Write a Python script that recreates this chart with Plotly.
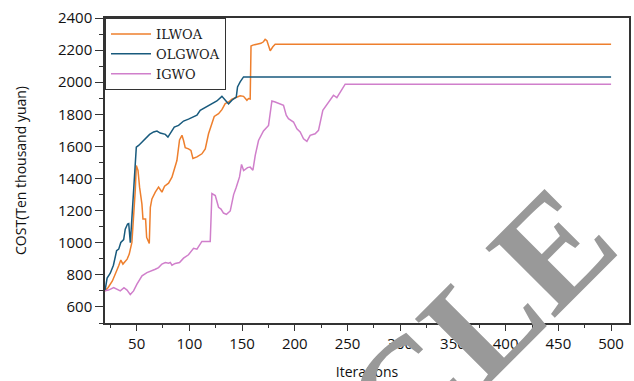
import plotly.graph_objects as go

# ---- data ----
ilwoa_x = [20, 23, 27, 30, 33, 35, 37, 41, 43, 45.5, 47, 48.7, 49.7, 51.3, 52.8, 55, 56, 58.5,
           59.5, 60.5, 62, 63, 64.5, 67.7, 70.8, 72.5, 74, 76.5, 80.3, 83.5, 85.7, 88.2, 90.7,
           93, 94.5, 96.1, 99.2, 101.5, 103.4, 107.2, 111.9, 115.1, 118.2, 121.4, 123.6, 127.7,
           130.9, 134, 137.2, 140.4, 143.5, 148.2, 151.4, 154.6, 156.1, 157.7, 158.5, 160.3,
           164, 167.9, 170.3, 171.9, 173.6, 175.1, 176.7, 179.2, 181.4, 500]
ilwoa_y = [700, 721, 762, 804, 856, 892, 867, 898, 929, 1002, 1137, 1325, 1481, 1450, 1346, 1242,
           1148, 1148, 1033, 1012, 996, 1221, 1273, 1315, 1346, 1330, 1315, 1352, 1371, 1408, 1450,
           1512, 1640, 1669, 1637, 1592, 1585, 1575, 1525, 1535, 1554, 1585, 1679, 1752, 1787,
           1804, 1829, 1867, 1877, 1894, 1904, 1915, 1912, 1887, 1898, 1895, 2225, 2231, 2237,
           2242, 2252, 2267, 2258, 2221, 2196, 2221, 2236, 2236]

olgwoa_x = [20, 22, 25, 28, 31, 33, 35, 37.7, 39.2, 41.4, 42.5, 43.3, 44, 45, 46.5, 48, 49.7, 51.9,
            56, 58.2, 62.3, 66.1, 69.3, 72.4, 77.2, 79.7, 81.9, 85.7, 89.8, 94.5, 99.2, 102.4,
            107.2, 110.3, 115, 121.4, 126.1, 130.9, 133.1, 135.6, 137.2, 140.4, 144.5, 145.7,
            148.2, 151.4, 500]
olgwoa_y = [700, 780, 810, 860, 950, 960, 1002, 1020, 1085, 1117, 1120, 1050, 1000, 1100, 1250,
            1400, 1595, 1606, 1633, 1648, 1675, 1690, 1696, 1683, 1675, 1658, 1679, 1721, 1731,
            1758, 1770, 1779, 1794, 1825, 1842, 1867, 1883, 1912, 1898, 1877, 1865, 1888, 1908,
            1971, 2002, 2033, 2033]

igwo_x = [20, 23.4, 28.2, 31.4, 34.5, 38, 40.9, 44, 47.1, 50.3, 55.1, 59.8, 64.5, 67.7, 70.8, 74,
          77.2, 80.3, 81.9, 83.5, 86.6, 90.7, 94.5, 99.2, 104, 107.2, 111.9, 119.8, 121.4, 124.6,
          127.7, 130, 132.4, 135.2, 138.8, 142, 144.5, 147.6, 149.5, 151.5, 155.2, 157.7, 160.3,
          162.5, 165.6, 170.3, 175.1, 178.3, 181.4, 186.2, 189.3, 191.9, 194, 198.8, 202, 205.1,
          208.3, 211.5, 214.6, 219.3, 222.5, 226.6, 230.4, 233.6, 236.7, 239.9, 242.4, 247.8, 500]
igwo_y = [700, 705, 721, 710, 700, 720, 705, 677, 700, 742, 794, 814, 825, 835, 845, 867, 877, 873,
          877, 860, 871, 877, 904, 925, 965, 960, 1008, 1008, 1306, 1294, 1221, 1210, 1185, 1177,
          1198, 1300, 1346, 1410, 1488, 1450, 1468, 1471, 1452, 1544, 1637, 1696, 1731, 1883, 1877,
          1867, 1856, 1794, 1773, 1752, 1710, 1690, 1648, 1631, 1669, 1679, 1700, 1825, 1858,
          1888, 1919, 1904, 1929, 1988, 1988]

series_names = ["ILWOA", "OLGWOA", "IGWO"]
series_colors = ["#EE7F2D", "#185A7D", "#D07FCB"]
x_ticks = [50, 100, 150, 200, 250, 300, 350, 400, 450, 500]
y_ticks = [600, 800, 1000, 1200, 1400, 1600, 1800, 2000, 2200, 2400]

fig = go.Figure()
for name, xs, ys, col in zip(series_names, [ilwoa_x, olgwoa_x, igwo_x],
                             [ilwoa_y, olgwoa_y, igwo_y], series_colors):
    fig.add_trace(go.Scatter(x=xs, y=ys, mode="lines", name=name,
                             line=dict(color=col, width=1.5)))

tick_font = dict(family="Open Sans", size=15, color="#111")
fig.update_layout(
    width=634, height=381,
    margin=dict(l=105, r=5, t=18, b=58),
    paper_bgcolor="white", plot_bgcolor="white",
    showlegend=True,
    legend=dict(x=0, y=1, xanchor="left", yanchor="top",
                bgcolor="white", bordercolor="#333", borderwidth=1,
                font=dict(family="DejaVu Serif", size=13, color="#222"),
                itemwidth=40, tracegroupgap=0),
    xaxis=dict(range=[20, 517], tickvals=x_ticks, ticks="outside", ticklen=6,
               tickwidth=1.2, tickcolor="#333", showgrid=False, zeroline=False,
               showline=True, linecolor="#333", linewidth=1.5, mirror=True,
               tickfont=tick_font, automargin=False,
               minor=dict(dtick=25, tick0=0, ticks="outside", ticklen=3, tickcolor="#333"),
               title=dict(text="Iterations", font=dict(family="Open Sans", size=14, color="#111"),
                          standoff=16)),
    yaxis=dict(range=[500, 2400], tickvals=y_ticks, ticks="outside", ticklen=8,
               tickwidth=1.2, tickcolor="#333", showgrid=False, zeroline=False,
               showline=True, linecolor="#333", linewidth=1.5, mirror=True,
               tickfont=tick_font, automargin=False,
               minor=dict(dtick=100, tick0=0, ticks="outside", ticklen=4, tickcolor="#333"),
               title=dict(text="COST(Ten thousand yuan)",
                          font=dict(family="Open Sans", size=14, color="#111"),
                          standoff=28)),
    annotations=[dict(text="<b>CLE</b>", xref="paper", yref="paper", x=0.713, y=0.002,
                      xanchor="center", yanchor="middle",
                      showarrow=False, textangle=-45,
                      font=dict(family="Liberation Serif", size=150, color="#999999"))],
)

fig.write_html("out.html", config={"displayModeBar": False},
               post_script="document.body.style.margin='0';")
